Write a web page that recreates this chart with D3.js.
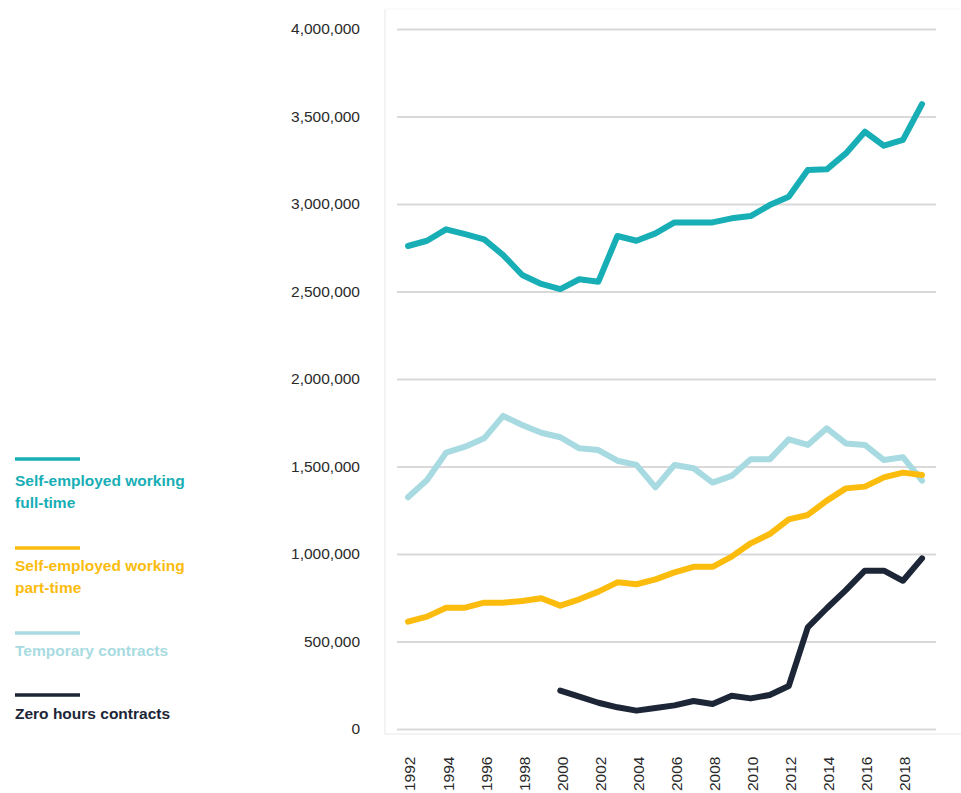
<!DOCTYPE html>
<meta charset="utf-8">
<style>
  body { margin: 0; background: #fff; }
  text { font-family: "Liberation Sans", Arial, Helvetica, sans-serif; }
</style>
<svg width="961" height="793"></svg>
<script src="https://d3js.org/d3.v7.min.js"></script>
<script>

// years on the x axis
var years = d3.range(1992, 2020);
var tickYears = d3.range(1992, 2020, 2);
var yTicks = d3.range(0, 4000001, 500000);

// series values, one per year from 1992 (null = no data)
var fullTime = [2760000, 2790000, 2855000, 2828000, 2798000, 2708000, 2594000, 2543000, 2514000, 2570000,
                2556000, 2817000, 2790000, 2832000, 2895000, 2895000, 2895000, 2918000, 2931000, 2994000,
                3042000, 3194000, 3198000, 3289000, 3413000, 3333000, 3366000, 3571000];
var partTime = [613000, 642000, 693000, 693000, 722000, 722000, 731000, 747000, 705000, 741000,
                785000, 838000, 827000, 855000, 895000, 927000, 927000, 985000, 1061000, 1114000,
                1198000, 1223000, 1305000, 1375000, 1385000, 1438000, 1465000, 1451000];
var temporary = [1324000, 1423000, 1579000, 1613000, 1661000, 1789000, 1737000, 1693000, 1667000, 1604000,
                 1594000, 1533000, 1509000, 1381000, 1509000, 1490000, 1408000, 1446000, 1541000, 1541000,
                 1655000, 1623000, 1718000, 1632000, 1623000, 1537000, 1553000, 1419000];
var zeroHours = [null, null, null, null, null, null, null, null, 219000, 185000,
                 150000, 124000, 105000, 120000, 135000, 160000, 143000, 190000, 175000, 194000,
                 246000, 581000, 690000, 794000, 905000, 905000, 847000, 975000];

var seriesNames = ["Self-employed working full-time", "Self-employed working part-time", "Temporary contracts", "Zero hours contracts"];
var legendLines = [["Self-employed working", "full-time"], ["Self-employed working", "part-time"], ["Temporary contracts"], ["Zero hours contracts"]];
var colors = ["#17aeb5", "#fbbc0e", "#a8dbe1", "#1c2637"];

var svg = d3.select("svg");

var x = d3.scaleLinear().domain([1992, 2019]).range([408, 922]);
var y = d3.scaleLinear().domain([0, 4000000]).range([729, 29]);

// faint frame around plot
svg.append("path")
    .attr("d", "M385,9 L385,734 L961,734")
    .attr("fill", "none")
    .attr("stroke", "#f0f0f0")
    .attr("stroke-width", 1.5);
svg.append("line")
    .attr("x1", 385).attr("x2", 961).attr("y1", 9).attr("y2", 9)
    .attr("stroke", "#f7f7f7");

// gridlines
var yAxis = d3.axisLeft(y)
    .tickValues(yTicks)
    .tickSize(-(936 - 397))
    .tickFormat(d3.format(","));

var gy = svg.append("g")
    .attr("transform", "translate(397,0)")
    .call(yAxis);
gy.select(".domain").remove();
gy.selectAll(".tick line")
    .attr("stroke", "#d9d9d9")
    .attr("stroke-width", 2);
gy.selectAll(".tick text")
    .attr("x", 360 - 397)
    .attr("fill", "#2a2a2a")
    .style("font-size", "15.5px");

// x labels
var xAxis = d3.axisBottom(x)
    .tickValues(tickYears)
    .tickSize(0)
    .tickFormat(d3.format("d"));
var gx = svg.append("g")
    .attr("transform", "translate(1.5,791)")
    .call(xAxis);
gx.select(".domain").remove();
gx.selectAll(".tick text")
    .attr("transform", "rotate(-90)")
    .attr("x", 0).attr("y", 0)
    .attr("dy", "0.35em")
    .attr("text-anchor", "start")
    .attr("fill", "#2a2a2a")
    .style("font-size", "15.5px");

// lines
var allSeries = [fullTime, partTime, temporary, zeroHours];
var line = d3.line()
    .defined(function(d) { return d != null; })
    .x(function(d, i) { return x(years[i]); })
    .y(function(d) { return y(d); });

[2, 1, 0, 3].forEach(function(k) {
  svg.append("path")
      .datum(allSeries[k])
      .attr("fill", "none")
      .attr("stroke", colors[k])
      .attr("stroke-width", 6)
      .attr("stroke-linejoin", "round")
      .attr("stroke-linecap", "round")
      .attr("d", line)
      .append("title").text(seriesNames[k]);
});

// legend
var legendY = [459, 548, 633, 695];
var legendTextY = [486, 571, 656, 719];
var legend = svg.append("g");
legendLines.forEach(function(lines, k) {
  legend.append("line")
      .attr("x1", 15).attr("x2", 80)
      .attr("y1", legendY[k]).attr("y2", legendY[k])
      .attr("stroke", colors[k])
      .attr("stroke-width", 3.5);
  lines.forEach(function(t, j) {
    legend.append("text")
        .attr("x", 15)
        .attr("y", legendTextY[k] + j * 22)
        .attr("fill", colors[k])
        .style("font-size", "15.5px")
        .style("font-weight", "bold")
        .text(t);
  });
});

</script>
